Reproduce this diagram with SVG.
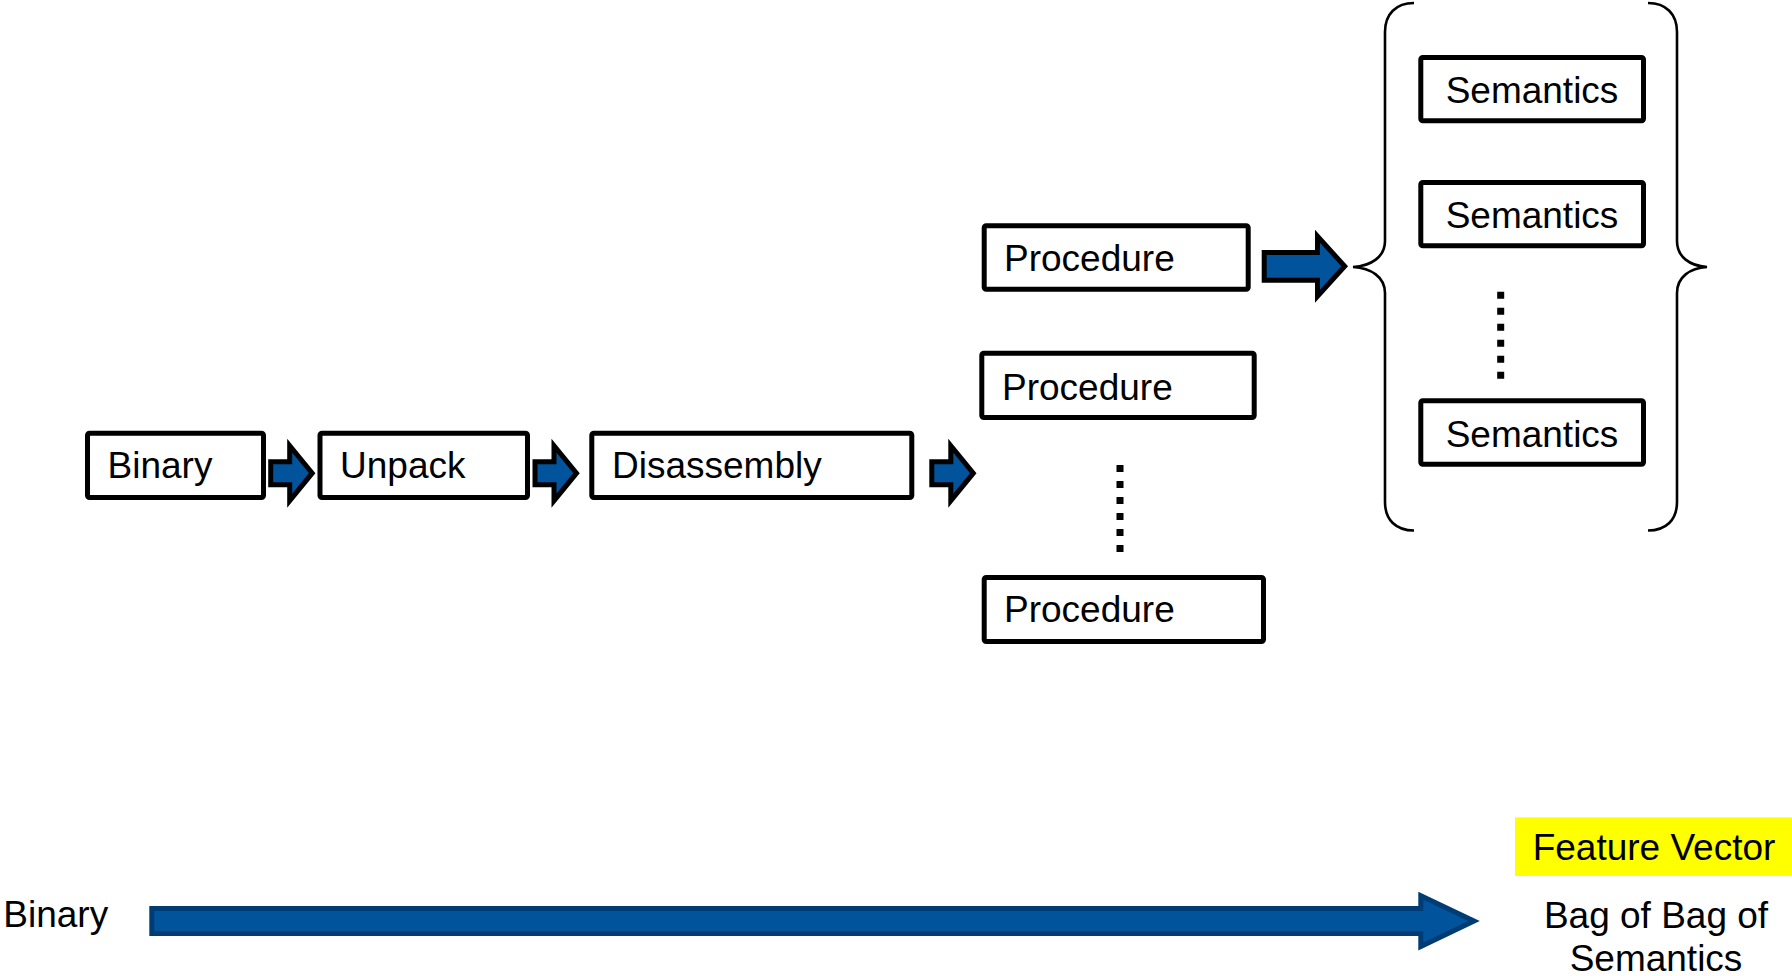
<svg xmlns="http://www.w3.org/2000/svg" width="1792" height="976" viewBox="0 0 1792 976">
  <style>
    .box { fill: #ffffff; stroke: #000000; stroke-width: 5; }
    .lbl { font-family: "Liberation Sans", Arial, sans-serif; font-size: 37px; fill: #000000; }
    .mid { text-anchor: middle; }
    .step { fill: #01539C; stroke: #000000; stroke-width: 5; stroke-linejoin: miter; }
    .flow { fill: #01539C; stroke: #003C74; stroke-width: 5; stroke-linejoin: miter; }
    .brace { fill: none; stroke: #000000; stroke-width: 2.6; }
    .dots { stroke: #000000; stroke-width: 7; stroke-dasharray: 7 9; }
  </style>
  <defs>
    <path id="stepArrow" d="M2.5,19 H21.5 V3 L44,30.5 L21.5,58 V42 H2.5 Z"/>
  </defs>
  <rect width="1792" height="976" fill="#ffffff"/>

  <!-- pipeline nodes -->
  <g id="node-binary">
    <rect class="box" x="87.5" y="433.2" width="176" height="64.3" rx="2"/>
    <text class="lbl" x="107.5" y="478">Binary</text>
  </g>
  <g id="node-unpack">
    <rect class="box" x="320" y="433.2" width="207.5" height="64.3" rx="2"/>
    <text class="lbl" x="340" y="478">Unpack</text>
  </g>
  <g id="node-disassembly">
    <rect class="box" x="591.8" y="433.2" width="320" height="64.3" rx="2"/>
    <text class="lbl" x="612" y="478">Disassembly</text>
  </g>

  <!-- procedures -->
  <g id="node-procedure-1">
    <rect class="box" x="984.2" y="225.8" width="264" height="63.4" rx="2"/>
    <text class="lbl" x="1004" y="271">Procedure</text>
  </g>
  <g id="node-procedure-2">
    <rect class="box" x="981.8" y="353.2" width="272.4" height="64.3" rx="2"/>
    <text class="lbl" x="1002" y="400">Procedure</text>
  </g>
  <g id="node-procedure-n">
    <rect class="box" x="984.2" y="577.5" width="279.3" height="64" rx="2"/>
    <text class="lbl" x="1004" y="622">Procedure</text>
  </g>
  <line id="procedure-ellipsis" class="dots" x1="1120" y1="465" x2="1120" y2="552"/>

  <!-- semantics set -->
  <g id="semantics-set">
    <path class="brace" d="M1414,3 C1396,3 1385,14 1385,32 V241 C1385,257 1371,266 1353,267 C1371,268 1385,277 1385,293 V502 C1385,520 1396,530.5 1414,530.5"/>
    <path class="brace" d="M1648,3 C1666,3 1677,14 1677,32 V241 C1677,257 1690,266 1707,267 C1690,268 1677,277 1677,293 V502 C1677,520 1666,530.5 1648,530.5"/>
  </g>
  <g id="node-semantics-1">
    <rect class="box" x="1420.8" y="57.5" width="222.7" height="63.3" rx="2"/>
    <text class="lbl mid" x="1532" y="103.4">Semantics</text>
  </g>
  <g id="node-semantics-2">
    <rect class="box" x="1420.8" y="182.5" width="222.7" height="63.3" rx="2"/>
    <text class="lbl mid" x="1532" y="228.4">Semantics</text>
  </g>
  <g id="node-semantics-n">
    <rect class="box" x="1420.8" y="400.8" width="222.7" height="63.4" rx="2"/>
    <text class="lbl mid" x="1532" y="446.7">Semantics</text>
  </g>
  <line id="semantics-ellipsis" class="dots" x1="1500.7" y1="291.7" x2="1500.7" y2="379.3"/>

  <!-- connectors -->
  <g id="connectors">
    <use href="#stepArrow" class="step" transform="translate(268.2,442.7)"/>
    <use href="#stepArrow" class="step" transform="translate(532.5,442.7)"/>
    <use href="#stepArrow" class="step" transform="translate(929.3,442.7)"/>
    <path class="step" transform="translate(1261.7,233.3)" d="M2.5,19.2 H55.8 V3 L83,33 L55.8,63 V46.9 H2.5 Z"/>
  </g>

  <!-- overall transformation axis -->
  <g id="axis">
    <text class="lbl" x="3.3" y="927">Binary</text>
    <path class="flow" d="M151.8,908.5 H1420.8 V895.8 L1474,921 L1420.8,946.5 V933.5 H151.8 Z"/>
  </g>
  <g id="node-feature-vector">
    <rect x="1515" y="817.3" width="277" height="58.7" fill="#FFFF00"/>
    <text class="lbl mid" x="1654" y="860">Feature Vector</text>
  </g>
  <g id="node-bag-of-bag">
    <text class="lbl mid" x="1656" y="928">Bag of Bag of</text>
    <text class="lbl mid" x="1656" y="971">Semantics</text>
  </g>
</svg>
